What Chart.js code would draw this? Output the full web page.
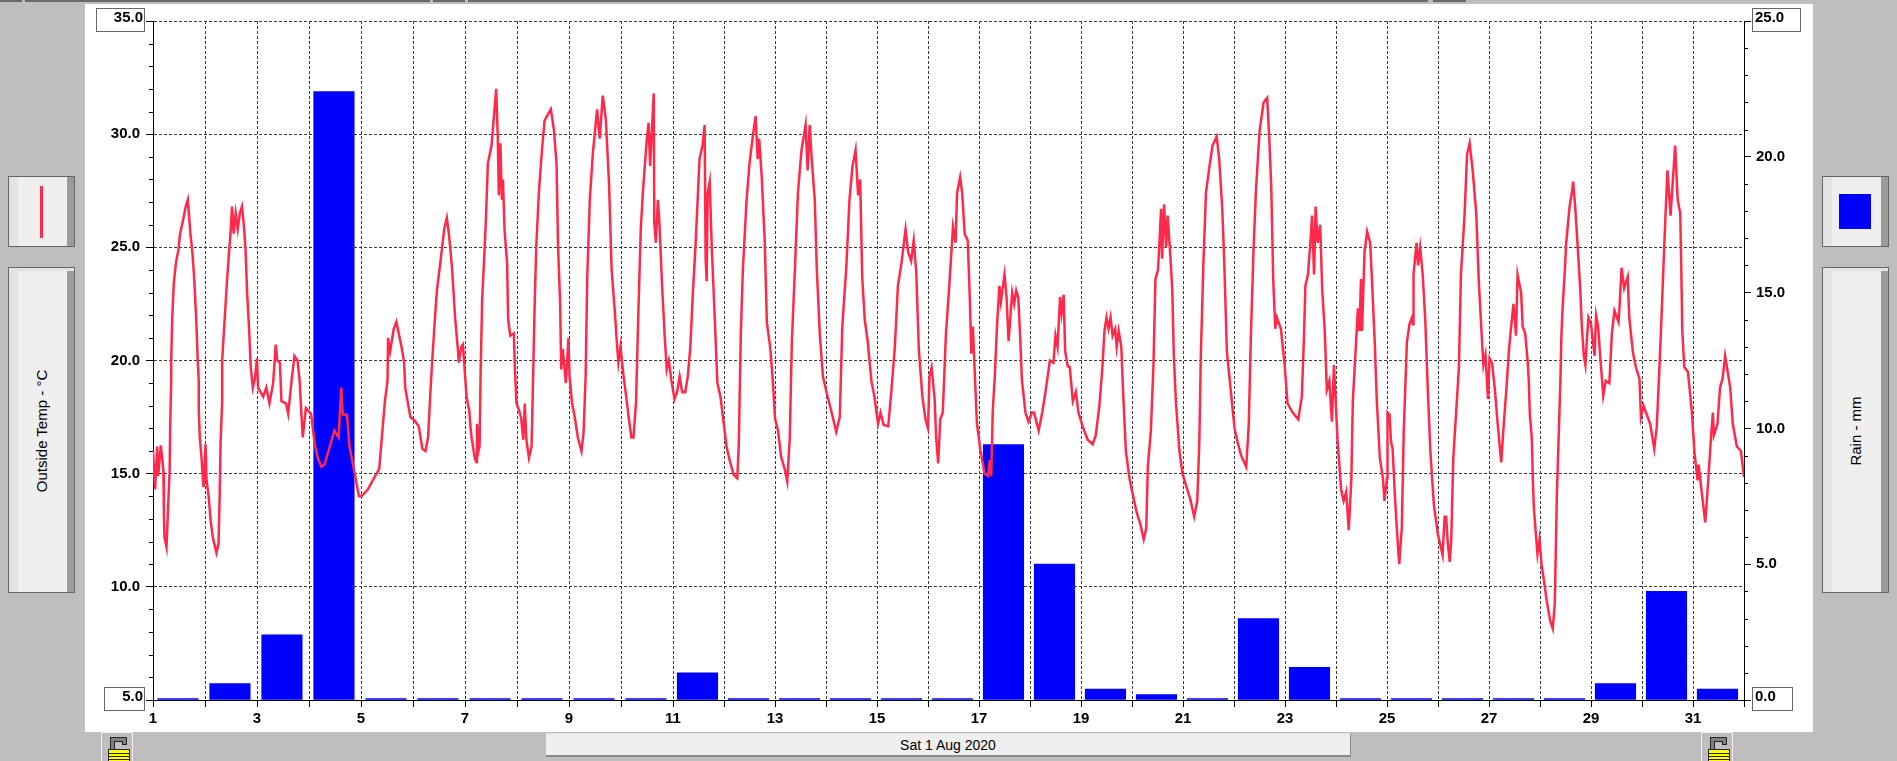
<!DOCTYPE html>
<html>
<head>
<meta charset="utf-8">
<title>Sat 1 Aug 2020</title>
<script src="https://cdn.jsdelivr.net/npm/chart.js@4/dist/chart.umd.min.js"></script>
<style>
  html, body { margin: 0; padding: 0; width: 1897px; height: 761px; overflow: hidden; background: #bebebe; }
  .abs { position: absolute; box-sizing: border-box; }
  #panel { left: 85px; top: 4px; width: 1728px; height: 728px; background: #fff; }
  #plot { position: absolute; left: 0; top: 0; }
  .strip { top: 0; height: 2px; background: #6a6a6a; }
  .btn { background: #efefef; border: 1px solid #666; width: 67px; }
  .legendBtn { top: 176px; height: 71px; box-shadow: inset 9px 0 0 #e3e3e3, inset -7px 0 0 #9c9c9c; }
  .labelBtn { top: 267px; height: 326px; box-shadow: inset 9px 3px 0 #e3e3e3, inset -7px 0 0 #9c9c9c; }
  .vtext { top: 431px; font: 15px "Liberation Sans", sans-serif; color: #000; white-space: nowrap; transform: translate(-50%, -50%) rotate(-90deg); }
  #dateBtn { left: 546px; top: 733px; width: 805px; height: 24px; background: #efefef; border-top: 1px solid #e3e3e3; border-bottom: 2px solid #8a8a8a; border-right: 1px solid #8a8a8a;
    font: 14px "Liberation Sans", sans-serif; color: #000; text-align: center; line-height: 22px; }
  .lock { top: 732px; }
</style>
</head>
<body>
<div class="abs strip" style="left:0;width:22px"></div>
<div class="abs strip" style="left:25px;width:405px"></div>
<div class="abs strip" style="left:433px;width:32px"></div>
<div class="abs strip" style="left:468px;width:960px"></div>
<div class="abs strip" style="left:1433px;width:33px"></div>
<div class="abs" id="panel"></div>

<div class="abs btn legendBtn" style="left:8px"></div>
<div class="abs" style="left:40px;top:186px;width:3px;height:52px;background:#ff2a4b"></div>
<div class="abs btn labelBtn" style="left:8px"></div>
<div class="abs vtext" style="left:41px">Outside Temp - °C</div>

<div class="abs btn legendBtn" style="left:1822px"></div>
<div class="abs" style="left:1839px;top:194px;width:32px;height:35px;background:#0000ff"></div>
<div class="abs btn labelBtn" style="left:1822px"></div>
<div class="abs vtext" style="left:1855px">Rain - mm</div>

<div class="abs" id="dateBtn">Sat 1 Aug 2020</div>

<svg class="abs lock" style="left:101px" width="32" height="29" shape-rendering="crispEdges">
  <rect x="0.5" y="0.5" width="31" height="30" fill="#bebebe" stroke="#f0f0f0"/>
  <path d="M9.5 17.5V5.5h16v7h-4v-3h-8v8z" fill="#808080" stroke="#222"/>
  <rect x="7.5" y="17.5" width="21" height="12" fill="#ffff00" stroke="#222"/>
  <path d="M8 21h20M8 24h20M8 27h20" stroke="#222"/>
</svg>
<svg class="abs lock" style="left:1701px" width="32" height="29" shape-rendering="crispEdges">
  <rect x="0.5" y="0.5" width="31" height="30" fill="#bebebe" stroke="#f0f0f0"/>
  <path d="M9.5 17.5V5.5h16v7h-4v-3h-8v8z" fill="#808080" stroke="#222"/>
  <rect x="7.5" y="17.5" width="21" height="12" fill="#ffff00" stroke="#222"/>
  <path d="M8 21h20M8 24h20M8 27h20" stroke="#222"/>
</svg>

<canvas id="plot" width="1897" height="761"></canvas>

<script>
const tempTicks = [35, 30, 25, 20, 15, 10, 5];
const rainTicks = [25, 20, 15, 10, 5, 0];
const dayLabels = [1, 3, 5, 7, 9, 11, 13, 15, 17, 19, 21, 23, 25, 27, 29, 31];

// rain total per day, one bar for each day of August
const rainDays = [1, 2, 3, 4, 5, 6, 7, 8, 9, 10, 11, 12, 13, 14, 15, 16, 17, 18, 19, 20, 21, 22, 23, 24, 25, 26, 27, 28, 29, 30, 31];
const rainMm = [0, 0.6, 2.4, 22.4, 0, 0, 0, 0, 0, 0, 1.0, 0, 0, 0, 0, 0, 9.4, 5.0, 0.4, 0.2, 0, 3.0, 1.2, 0, 0, 0, 0, 0, 0.6, 4.0, 0.4];

// outside temperature: day of month (fraction) and degrees C
const tempDays = [
  1.00, 1.04, 1.08, 1.10, 1.15, 1.18, 1.20, 1.21, 1.22, 1.26, 1.29, 1.32, 1.33, 1.35, 1.35, 1.37, 1.40, 1.44, 1.49, 1.52, 1.56, 1.63, 1.67, 1.69, 1.72, 1.76, 1.79, 1.83, 1.86, 1.88, 1.88, 1.90, 1.93, 1.97,
  2.01, 2.03, 2.07, 2.11, 2.15, 2.22, 2.26, 2.28, 2.30, 2.33, 2.33, 2.38, 2.42, 2.46, 2.49, 2.52, 2.55, 2.59, 2.63, 2.67, 2.71, 2.75, 2.78, 2.81, 2.85, 2.88, 2.92, 2.96,
  3.00, 3.02, 3.12, 3.18, 3.24, 3.31, 3.34, 3.36, 3.39, 3.44, 3.47, 3.56, 3.60, 3.66, 3.72, 3.78, 3.82, 3.85, 3.88, 3.94,
  4.04, 4.11, 4.17, 4.24, 4.30, 4.40, 4.49, 4.57, 4.62, 4.65, 4.73, 4.78, 4.88, 4.96,
  5.01, 5.13, 5.26, 5.35, 5.39, 5.46, 5.51, 5.52, 5.56, 5.63, 5.68, 5.78, 5.83, 5.85, 5.95,
  6.03, 6.11, 6.18, 6.24, 6.29, 6.33, 6.37, 6.42, 6.46, 6.53, 6.60, 6.65, 6.69, 6.75, 6.81, 6.87, 6.88, 6.93, 6.96, 6.99,
  7.03, 7.08, 7.12, 7.19, 7.22, 7.23, 7.26, 7.28, 7.30, 7.33, 7.36, 7.40, 7.44, 7.51, 7.55, 7.60, 7.63, 7.65, 7.68, 7.71, 7.73, 7.76, 7.81, 7.83, 7.87, 7.94, 7.96, 7.99,
  8.04, 8.08, 8.12, 8.15, 8.18, 8.23, 8.28, 8.31, 8.34, 8.37, 8.42, 8.48, 8.53, 8.60, 8.65, 8.71, 8.76, 8.79, 8.83, 8.85, 8.88, 8.94, 8.99,
  9.01, 9.06, 9.11, 9.17, 9.24, 9.28, 9.32, 9.35, 9.40, 9.46, 9.54, 9.59, 9.65, 9.71, 9.77, 9.82, 9.88, 9.92, 9.95, 9.99,
  10.05, 10.10, 10.15, 10.20, 10.24, 10.29, 10.33, 10.38, 10.42, 10.49, 10.53, 10.56, 10.63, 10.64, 10.67, 10.71, 10.74, 10.79, 10.84, 10.88, 10.92, 10.97,
  11.03, 11.08, 11.13, 11.18, 11.24, 11.29, 11.34, 11.39, 11.44, 11.52, 11.58, 11.62, 11.64, 11.66, 11.68, 11.72, 11.76, 11.82, 11.87, 11.93, 11.98,
  12.05, 12.11, 12.19, 12.26, 12.29, 12.33, 12.37, 12.44, 12.50, 12.57, 12.62, 12.66, 12.69, 12.74, 12.80, 12.84, 12.91, 12.96,
  13.00, 13.06, 13.12, 13.19, 13.24, 13.29, 13.33, 13.39, 13.45, 13.52, 13.60, 13.64, 13.68, 13.72, 13.78, 13.82, 13.88, 13.94,
  14.01, 14.10, 14.20, 14.27, 14.32, 14.40, 14.46, 14.52, 14.58, 14.63, 14.67, 14.71, 14.76, 14.82, 14.89, 14.95,
  15.02, 15.07, 15.13, 15.22, 15.28, 15.35, 15.41, 15.48, 15.56, 15.61, 15.67, 15.72, 15.77, 15.82, 15.89, 15.95,
  16.00, 16.03, 16.07, 16.13, 16.16, 16.20, 16.24, 16.29, 16.35, 16.42, 16.49, 16.54, 16.57, 16.63, 16.67, 16.72, 16.78, 16.82, 16.85, 16.88, 16.92, 16.96,
  17.03, 17.11, 17.18, 17.21, 17.24, 17.27, 17.31, 17.35, 17.40, 17.43, 17.50, 17.54, 17.58, 17.65, 17.69, 17.73, 17.77, 17.81, 17.84, 17.91, 17.97,
  18.04, 18.08, 18.17, 18.24, 18.31, 18.39, 18.46, 18.50, 18.54, 18.59, 18.62, 18.66, 18.69, 18.74, 18.78, 18.84, 18.90, 18.95,
  19.03, 19.13, 19.23, 19.29, 19.36, 19.42, 19.46, 19.50, 19.54, 19.58, 19.62, 19.67, 19.70, 19.74, 19.79, 19.83, 19.88, 19.95,
  20.01, 20.09, 20.16, 20.23, 20.28, 20.31, 20.37, 20.42, 20.46, 20.51, 20.54, 20.57, 20.59, 20.63, 20.67, 20.70, 20.75, 20.79, 20.82, 20.86, 20.93, 20.99,
  21.07, 21.14, 21.22, 21.28, 21.32, 21.35, 21.40, 21.45, 21.52, 21.58, 21.66, 21.71, 21.77, 21.81, 21.86, 21.94,
  22.01, 22.07, 22.14, 22.24, 22.29, 22.33, 22.38, 22.43, 22.50, 22.58, 22.65, 22.69, 22.73, 22.77, 22.81, 22.84, 22.92, 22.99,
  23.05, 23.15, 23.26, 23.33, 23.37, 23.40, 23.45, 23.50, 23.53, 23.57, 23.60, 23.64, 23.69, 23.73, 23.78, 23.82, 23.87, 23.92, 23.96, 23.99,
  24.03, 24.10, 24.15, 24.20, 24.25, 24.30, 24.33, 24.38, 24.43, 24.46, 24.49, 24.51, 24.56, 24.61, 24.67, 24.71, 24.76, 24.80, 24.86, 24.92, 24.95,
  25.00, 25.01, 25.05, 25.08, 25.11, 25.16, 25.20, 25.24, 25.29, 25.33, 25.39, 25.44, 25.49, 25.51, 25.52, 25.58, 25.61, 25.65, 25.70, 25.75, 25.80, 25.85, 25.92,
  26.00, 26.05, 26.09, 26.13, 26.16, 26.19, 26.23, 26.26, 26.30, 26.35, 26.41, 26.45, 26.52, 26.57, 26.62, 26.68, 26.75, 26.80, 26.84, 26.89, 26.93, 26.98,
  27.01, 27.06, 27.12, 27.17, 27.24, 27.29, 27.34, 27.39, 27.43, 27.48, 27.53, 27.56, 27.63, 27.66, 27.71, 27.76, 27.78, 27.80, 27.84, 27.86, 27.88, 27.92, 27.95, 27.99,
  28.03, 28.07, 28.13, 28.20, 28.25, 28.29, 28.31, 28.33, 28.37, 28.40, 28.42, 28.44, 28.49, 28.51, 28.58, 28.63, 28.65, 28.69, 28.74, 28.79, 28.82, 28.86, 28.89, 28.91, 28.95,
  29.00, 29.07, 29.10, 29.14, 29.18, 29.24, 29.29, 29.36, 29.38, 29.41, 29.46, 29.54, 29.56, 29.60, 29.65, 29.72, 29.75, 29.82, 29.88, 29.95, 29.98,
  30.03, 30.16, 30.24, 30.29, 30.34, 30.37, 30.42, 30.46, 30.50, 30.56, 30.65, 30.70, 30.75, 30.77, 30.79, 30.83, 30.90, 30.93, 30.98,
  31.03, 31.09, 31.11, 31.16, 31.24, 31.29, 31.35, 31.39, 31.41, 31.48, 31.53, 31.58, 31.63, 31.73, 31.78, 31.86, 31.94, 32.00
];
const tempValues = [
  16, 14.3, 16.2, 14.9, 16.25, 15.6, 15.1, 13.1, 12.2, 11.75, 13.5, 15.15, 17, 19.1, 20, 21.9, 23.4, 24.3, 24.9, 25.6, 26, 26.8, 27.1, 26.5, 25.6, 24.7, 23.7, 21.9, 20, 19.1, 17.8, 16.6, 15.8, 14.4,
  16.3, 14.7, 14, 12.9, 12.2, 11.5, 11.9, 13.8, 16.4, 18.2, 20, 21.9, 23.4, 24.7, 25.6, 26.8, 25.6, 26.5, 25.8, 26.5, 26.8, 25.9, 24.9, 23, 21.3, 19.7, 18.8, 19.2,
  20.1, 18.8, 18.4, 18.8, 18.1, 19, 20, 20.7, 20, 19.9, 18.2, 18.1, 17.65, 19, 20.2, 20, 19.1, 17.8, 16.6, 17.9,
  17.65, 16.3, 15.7, 15.3, 15.4, 16.2, 16.9, 16.6, 18.8, 17.6, 17.6, 16.2, 15, 14,
  14, 14.3, 14.85, 15.2, 16.3, 18.2, 19.1, 21, 20.4, 21.4, 21.7, 20.6, 19.9, 18.8, 17.5,
  17.35, 17.1, 16.1, 16, 16.6, 18.4, 20, 21.8, 23.1, 24.4, 25.8, 26.3, 25.6, 24.1, 21.9, 20.3, 19.9, 20.6, 20.7, 19.7,
  18.4, 17.8, 16.7, 15.65, 15.5, 17.2, 16, 16.2, 19.4, 22.7, 24.1, 26.1, 28.7, 29.5, 30.6, 32, 29.9, 27.3, 29.6, 27.1, 28, 25.8, 24.3, 21.8, 21.1, 21.2, 19.6, 18.1,
  17.8, 17.45, 16.5, 18.1, 16.5, 15.7, 16.2, 19.3, 22.5, 25, 27.4, 29.3, 30.6, 30.9, 31.1, 30.2, 28.7, 25, 22.5, 19.6, 20.5, 19, 21,
  19.3, 18.1, 17.5, 16.6, 16, 16.8, 19.3, 23.6, 27.1, 29.2, 31.1, 29.8, 31.7, 30.6, 27.8, 24, 22.2, 20.8, 19.9, 20.6,
  19.3, 18.4, 17.45, 16.6, 16.6, 18.2, 21.8, 25.8, 27.4, 29.6, 30.5, 28.6, 31.8, 26.1, 25.2, 27.1, 26, 23.3, 21.1, 19.6, 20, 19.1,
  18.3, 18.6, 19.3, 18.6, 18.6, 19.3, 20.6, 23, 25, 28.9, 29.5, 30.4, 24.5, 23.5, 27.4, 27.9, 25, 21.8, 19, 18.4, 17.5,
  16.2, 15.6, 14.95, 14.8, 16.3, 21.2, 24, 27, 28.7, 30, 30.8, 28.9, 29.8, 28.1, 25.2, 21.7, 20.5, 19,
  17.45, 16.9, 15.75, 15.2, 14.65, 16.6, 20.8, 24, 27.4, 29.3, 30.4, 28.4, 30.4, 28.9, 27.1, 24, 21.1, 19.3,
  18.6, 17.8, 16.85, 17.5, 21.5, 24.2, 27.1, 28.6, 29.3, 27.3, 28, 23.7, 21.8, 20.8, 19.1, 18.4,
  17.2, 17.7, 17.15, 17.1, 18.6, 20.6, 23.3, 24.3, 25.8, 24.8, 24.4, 25.3, 23.9, 20.5, 18.4, 17.4,
  17, 19.3, 19.7, 18.3, 16.6, 15.45, 17.4, 17.7, 21.1, 23.4, 25.9, 25.2, 27.4, 28.1, 27.4, 25.6, 25.3, 22.7, 20.3, 21.5, 19.3, 17.2,
  16, 15, 14.9, 15.6, 14.9, 17.8, 19.3, 21.4, 23.3, 22.6, 23.8, 22.8, 20.85, 23, 22.5, 23.1, 22.8, 20.9, 19.2, 17.7, 17.3,
  17.7, 17.7, 16.9, 17.7, 18.7, 20, 19.9, 21.1, 20.6, 22.8, 22.1, 22.9, 20.4, 19.75, 19.7, 18.2, 18.6, 17.7,
  17.1, 16.5, 16.3, 16.7, 18, 19.7, 21.3, 21.9, 21.4, 21.9, 21.1, 21.4, 20.6, 21.3, 20.6, 18.4, 16, 14.8,
  14.15, 13.3, 12.8, 12.1, 12.6, 15.3, 16.9, 19.75, 23.6, 24, 25.3, 26.7, 24.5, 26.9, 25, 26.4, 24.7, 23.1, 20.25, 18.2, 16, 15,
  14.4, 13.9, 13.1, 13.8, 16.4, 20.25, 24.3, 27.4, 28.6, 29.5, 29.9, 28.9, 26.7, 24.3, 20.4, 18.6,
  17, 16.4, 15.8, 15.3, 17.2, 21, 24.7, 27.5, 30.1, 31.4, 31.6, 29.9, 27.7, 23.5, 21.4, 21.9, 21.4, 19.9,
  18.1, 17.7, 17.4, 18.4, 20.9, 23.3, 23.8, 25.3, 26.4, 23.8, 26.8, 25.2, 26, 23.1, 21.3, 18.7, 19.1, 17.3, 19.8, 18.4,
  16.5, 14.3, 13.8, 14.2, 12.5, 14.7, 18.2, 20.25, 22.3, 21.3, 23.6, 21.3, 24.8, 25.7, 25.2, 23.3, 20.8, 18.2, 15.7, 14.8, 13.8,
  14.8, 17.7, 17.6, 16.4, 16.1, 13.8, 12.3, 11, 12.6, 17, 20.8, 21.6, 21.9, 21.6, 23.8, 25.2, 24.2, 25, 23.8, 21.8, 18.7, 16, 13.6,
  12.3, 11.8, 11.4, 13.1, 13.1, 12, 11.1, 12.1, 15.7, 17.5, 19.7, 23.8, 26.4, 29.1, 29.6, 28.4, 26.5, 23.5, 21.8, 19.8, 20.25, 18.3,
  20.1, 19.9, 18.6, 17.2, 15.5, 17.2, 18.7, 20.4, 21.4, 22.5, 21.1, 23.8, 23, 21.5, 21.2, 19.9, 19.1, 17.65, 16.55, 14.7, 13.5, 12.3, 11.45, 12.1,
  11, 10.4, 9.4, 8.5, 8.15, 9.25, 11.6, 14, 16.9, 19.1, 21.1, 22.2, 24.1, 25.1, 26.8, 27.5, 27.9, 26.8, 25, 23.1, 21.5, 20.2, 19.8, 20.6, 21.9,
  21.6, 20.2, 22, 21.5, 20.2, 18.45, 19.1, 19, 19.9, 21.2, 22.2, 21.7, 22.4, 24.1, 23.2, 23.7, 21.9, 20.4, 19.7, 19.2, 17.5,
  18, 17.2, 16.1, 17.1, 19.6, 21.2, 24.1, 26.4, 28.4, 26.4, 29.5, 27.1, 26.5, 24.1, 21.3, 19.7, 19.5, 18.85, 17.65,
  15.9, 14.7, 15.4, 14.4, 12.85, 14.4, 16.5, 17.7, 16.7, 17.2, 18.8, 19.2, 20.2, 18.8, 17.2, 16.2, 16, 14.85
];

// the recorder's month axis is not even: the first ten days are 52px wide, the rest 51px
class DayScale extends Chart.LinearScale {
  static id = 'day';
  static defaults = Chart.LinearScale.defaults;
  getPixelForValue(v) {
    const px = v <= 11 ? (v - 1) * 52 : 520 + (v - 11) * 51;
    return this.left + this.width * px / 1591;
  }
}
Chart.register(DayScale);

const tickFont = { family: '"Liberation Sans", sans-serif', size: 15, weight: 'bold' };

// boxed end labels and the short minor ticks on both value axes
const axisExtras = {
  id: 'axisExtras',
  afterDraw(chart) {
    const { ctx, scales } = chart;
    ctx.save();
    ctx.strokeStyle = '#666';
    ctx.lineWidth = 1;
    ctx.strokeRect(96.5, 8.5, 48, 23);
    ctx.strokeRect(104.5, 687.5, 40, 23);
    ctx.strokeRect(1752.5, 8.5, 48, 23);
    ctx.strokeRect(1752.5, 687.5, 40, 23);

    ctx.strokeStyle = '#000';
    ctx.beginPath();
    scales.yTemp.ticks.forEach(t => {
      const y = Math.round(scales.yTemp.getPixelForValue(t.value)) + 0.5;
      if (!tempTicks.includes(t.value)) { ctx.moveTo(149, y); ctx.lineTo(153, y); }
    });
    scales.yRain.ticks.forEach(t => {
      const y = Math.round(scales.yRain.getPixelForValue(t.value)) + 0.5;
      if (!rainTicks.includes(t.value)) { ctx.moveTo(1744, y); ctx.lineTo(1748, y); }
    });
    ctx.stroke();

    ctx.fillStyle = '#000';
    ctx.font = `${tickFont.weight} ${tickFont.size}px ${tickFont.family}`;
    ctx.textBaseline = 'middle';
    ctx.textAlign = 'right';
    ctx.fillText(tempTicks[0].toFixed(1), 143, 18);
    ctx.fillText(tempTicks[tempTicks.length - 1].toFixed(1), 143, 697);
    ctx.textAlign = 'left';
    ctx.fillText(rainTicks[0].toFixed(1), 1755, 18);
    ctx.fillText(rainTicks[rainTicks.length - 1].toFixed(1), 1755, 697);
    ctx.restore();
  }
};

new Chart(document.getElementById('plot'), {
  type: 'bar',
  data: {
    datasets: [
      {
        type: 'line', label: 'Outside Temp - °C', order: 0, xAxisID: 'x', yAxisID: 'yTemp',
        data: tempDays.map((d, i) => ({ x: d, y: tempValues[i] })),
        borderColor: '#ff2a4b', borderWidth: 2.5, pointRadius: 0, tension: 0
      },
      {
        type: 'bar', label: 'Rain - mm', order: 1, xAxisID: 'x', yAxisID: 'yRain',
        data: rainDays.map((d, i) => ({ x: d + 0.48, y: rainMm[i] })),
        backgroundColor: '#0000ff', barThickness: 40.5, minBarLength: 1.5, borderWidth: 0
      }
    ]
  },
  options: {
    responsive: false, animation: false, events: [],
    layout: { padding: { top: 21 } },
    plugins: { legend: { display: false }, tooltip: { enabled: false }, title: { display: false } },
    scales: {
      x: {
        type: 'day', min: 1, max: 32, offset: false,
        afterFit(s) { s.height = 61; },
        grid: { offset: false, color: '#3c3c3c', lineWidth: 1, tickColor: '#000', tickLength: 7, tickBorderDash: [] },
        border: { color: '#000', width: 1, dash: [3, 2] },
        ticks: {
          stepSize: 1, autoSkip: false, maxRotation: 0, minRotation: 0, padding: 3, color: '#000', font: tickFont,
          callback: v => dayLabels.includes(v) ? String(v) : ''
        }
      },
      yTemp: {
        type: 'linear', position: 'left', min: 5, max: 35,
        afterFit(s) { s.width = 153; },
        grid: {
          color: c => tempTicks.includes(c.tick.value) ? '#3c3c3c' : 'transparent',
          tickColor: c => tempTicks.includes(c.tick.value) ? '#000' : 'transparent',
          tickLength: 7, tickBorderDash: []
        },
        border: { color: '#000', width: 1, dash: [3, 2] },
        ticks: {
          stepSize: 1, autoSkip: false, padding: 6, color: '#000', font: tickFont,
          callback: v => (tempTicks.includes(v) && v !== 35 && v !== 5) ? v.toFixed(1) : ''
        }
      },
      yRain: {
        type: 'linear', position: 'right', min: 0, max: 25,
        afterFit(s) { s.width = 153; },
        grid: {
          drawOnChartArea: false,
          tickColor: c => rainTicks.includes(c.tick.value) ? '#000' : 'transparent',
          tickLength: 7, tickBorderDash: []
        },
        border: { color: '#000', width: 1 },
        ticks: {
          stepSize: 1, autoSkip: false, padding: 5, color: '#000', font: tickFont,
          callback: v => (rainTicks.includes(v) && v !== 25 && v !== 0) ? v.toFixed(1) : ''
        }
      }
    }
  },
  plugins: [axisExtras]
});
</script>
</body>
</html>
